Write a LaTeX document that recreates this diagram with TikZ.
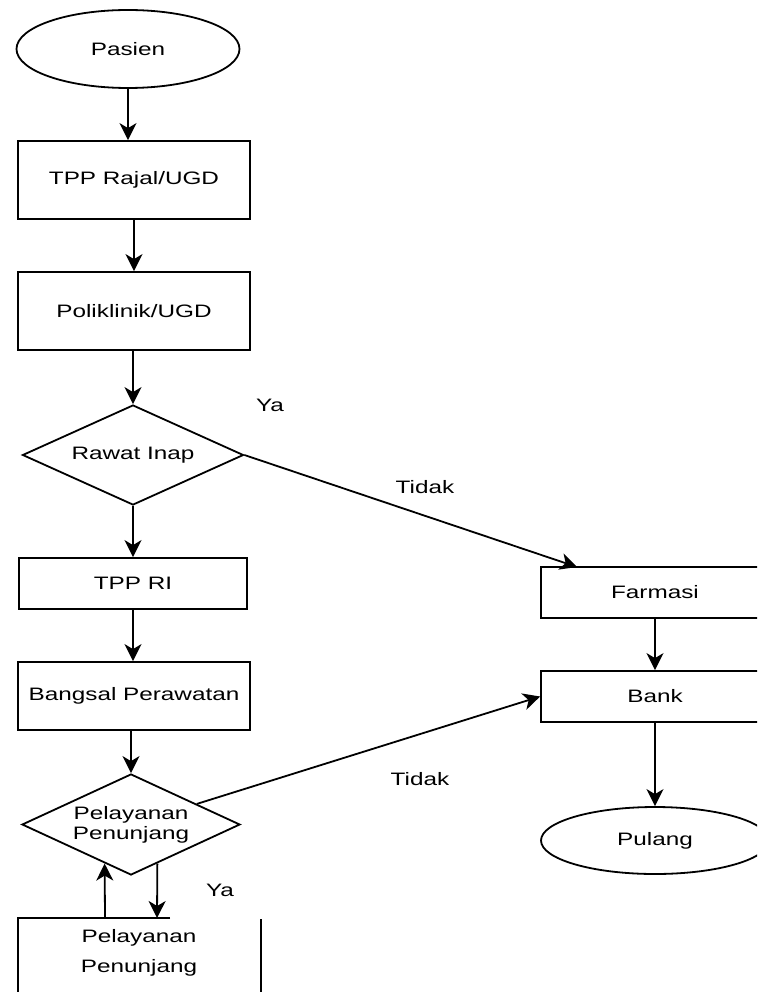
\documentclass[tikz,border=0pt]{standalone}
\usepackage{fontspec}
\setmainfont{Liberation Sans}[FakeStretch=1.35]
\usetikzlibrary{arrows.meta,positioning,calc,shapes.geometric}

\begin{document}
\begin{tikzpicture}[x=1pt, y=-1pt,
    line width=1.8pt,
    font=\fontsize{18}{22}\selectfont,
    arr/.style={-{Stealth[length=17pt,width=17pt,inset=5pt]}},
    prosesbox/.style={draw, rectangle, inner sep=0pt, minimum width=#1},
    terminal/.style={draw, ellipse, inner sep=0pt},
    keputusan/.style={draw, diamond, shape aspect=2.2, inner sep=0pt, align=center},
    labeltext/.style={inner sep=0pt}]
    \useasboundingbox (0,0) rectangle (757,992);
    \clip (0,0) rectangle (757,992);
    % jalur rawat jalan
    \node[terminal, minimum width=223pt, minimum height=78pt] (pasien) at (128,49) {Pasien};
    \node[prosesbox=232pt, minimum height=78pt] (tpp) at (134,180) {TPP Rajal/UGD};
    \node[prosesbox=232pt, minimum height=78pt] (poli) at (134,311) {Poliklinik/UGD};
    \node[keputusan, minimum width=221pt, minimum height=100pt] (rawat) at (133,455) {Rawat Inap};
    % jalur rawat inap
    \node[prosesbox=228pt, minimum height=51pt] (tppri) at (133,583.5) {TPP RI};
    \node[prosesbox=232pt, minimum height=68pt] (bangsal) at (134,696) {Bangsal Perawatan};
    \node[keputusan, minimum width=218pt, minimum height=101pt] (penunjang) at (131,824.5) {Pelayanan\\[-2pt]Penunjang};
    % kolom kanan
    \node[prosesbox=228pt, minimum height=51pt] (farmasi) at (655,592.5) {Farmasi};
    \node[prosesbox=228pt, minimum height=51pt] (bank) at (655,696.5) {Bank};
    \node[terminal, minimum width=228pt, minimum height=67pt] (pulang) at (655,840.5) {Pulang};
    % kotak bawah (terpotong)
    \draw (170,918) -- (18,918) -- (18,1000);
    \draw (261,919) -- (261,1000);
    \node[labeltext, align=center, font=\fontsize{18}{30}\selectfont] (pelayanan) at (139,953) {Pelayanan\\Penunjang};
    \coordinate (masuk) at (157,918);
    \coordinate (keluar) at (105,918);
    \coordinate (farmasiatas) at (577,567);
    % label
    \node[labeltext] (ya1) at (270,405) {Ya};
    \node[labeltext] (tidak1) at (425,487) {Tidak};
    \node[labeltext] (tidak2) at (420,779) {Tidak};
    \node[labeltext] (ya2) at (220,890) {Ya};
    % panah
    \draw[arr] (pasien.south) -- (pasien.south |- tpp.north);
    \draw[arr] (tpp.south) -- (tpp.south |- poli.north);
    \draw[arr] (poli.south -| rawat.north) -- (rawat.north);
    \draw[arr] (rawat.south) -- (rawat.south |- tppri.north);
    \draw[arr] (tppri.south) -- (tppri.south |- bangsal.north);
    \draw[arr] (bangsal.south -| penunjang.north) -- (penunjang.north);
    \draw[arr] (rawat.east) -- (farmasiatas);
    \draw[arr] (farmasi) -- (bank);
    \draw[arr] (bank) -- (pulang);
    \draw[arr] (penunjang) -- (bank.west);
    \draw[arr] (penunjang.-56) -- (masuk);
    \draw[arr] (keluar) -- (penunjang.-124);
\end{tikzpicture}
\end{document}
